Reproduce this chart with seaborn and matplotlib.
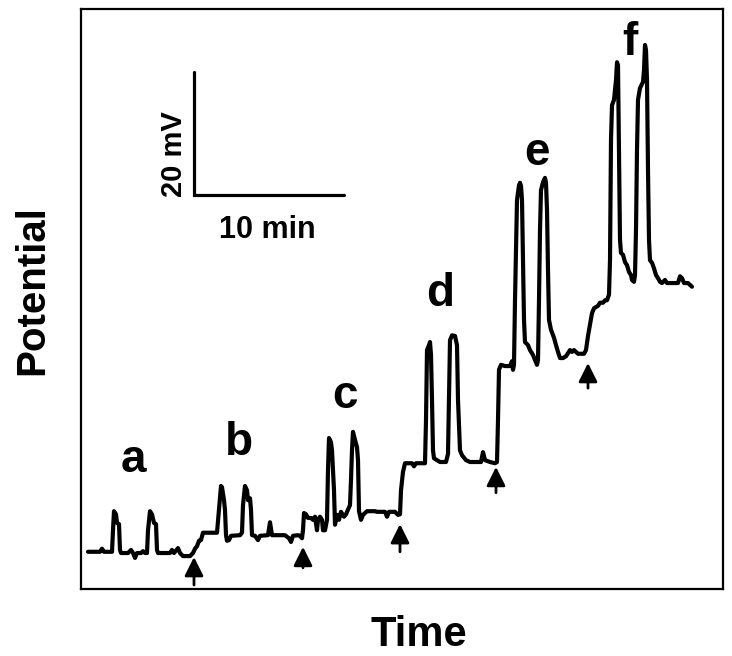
import matplotlib
matplotlib.use("Agg")
import matplotlib.pyplot as plt
import seaborn as sns
import pandas as pd

# ---- data (time in s, potential in mV relative to initial baseline) ----
time_s = [28, 76, 84, 92, 124, 128, 132, 140, 144, 152, 156, 160, 188, 200, 208, 216, 224, 240, 248, 256,
          264, 268, 276, 284, 292, 300, 304, 308, 356, 364, 372, 388, 396, 408, 420, 436, 448, 456, 464, 472,
          480, 488, 544, 552, 560, 564, 572, 576, 580, 584, 592, 600, 636, 644, 648, 656, 664, 668, 676, 680,
          684, 696, 708, 716, 748, 756, 764, 816, 832, 840, 848, 868, 876, 884, 888, 892, 900, 908, 920, 928,
          936, 944, 948, 956, 964, 968, 976, 984, 988, 992, 1000, 1004, 1012, 1016, 1024, 1032, 1040, 1052, 1060, 1076,
          1080, 1084, 1088, 1096, 1104, 1108, 1112, 1120, 1128, 1144, 1176, 1184, 1216, 1224, 1232, 1256, 1268, 1276, 1280, 1288,
          1296, 1324, 1332, 1340, 1376, 1380, 1384, 1392, 1396, 1400, 1404, 1408, 1412, 1424, 1436, 1452, 1460, 1468, 1472, 1476,
          1484, 1496, 1504, 1508, 1516, 1524, 1540, 1556, 1588, 1600, 1608, 1616, 1636, 1656, 1664, 1668, 1672, 1680, 1696, 1704,
          1716, 1724, 1728, 1732, 1736, 1740, 1744, 1752, 1756, 1760, 1764, 1768, 1772, 1776, 1788, 1796, 1808, 1816, 1824, 1828,
          1832, 1836, 1840, 1848, 1856, 1860, 1864, 1868, 1872, 1880, 1892, 1900, 1908, 1916, 1928, 1940, 1948, 1956, 1964, 1972,
          1980, 1988, 2012, 2020, 2028, 2036, 2044, 2052, 2068, 2076, 2088, 2096, 2104, 2112, 2116, 2120, 2124, 2132, 2140, 2144,
          2148, 2152, 2156, 2160, 2168, 2176, 2184, 2192, 2200, 2204, 2212, 2216, 2220, 2224, 2228, 2236, 2248, 2252, 2256, 2260,
          2264, 2268, 2272, 2276, 2284, 2292, 2300, 2308, 2316, 2324, 2336, 2344, 2356, 2388, 2396, 2404, 2412, 2428, 2436, 2444]

potential_mv = [0.2, 0.2, 0.7, 0.2, 0.2, 3.7, 6.8, 6.3, 4.9, 4.7, 0.5, 0.0, 0.0, 0.5, 0.0, -0.8, 0.0, 0.0, 0.3, 0.0,
                0.0, 3.7, 6.8, 6.3, 4.9, 4.7, 0.5, 0.0, 0.0, 0.5, 0.0, 0.8, 0.0, -0.5, -0.5, -0.5, 0.0, 0.7, 1.1, 2.0,
                2.1, 3.3, 3.3, 7.0, 10.9, 10.7, 8.6, 7.0, 2.9, 2.0, 2.1, 2.8, 2.9, 3.3, 7.8, 10.9, 10.2, 8.6, 8.9, 7.0,
                2.9, 2.8, 2.1, 2.8, 2.9, 5.0, 2.9, 2.9, 2.4, 1.8, 2.8, 2.9, 2.8, 2.4, 3.7, 6.5, 6.3, 5.7, 5.7, 5.4,
                5.9, 3.7, 5.4, 5.9, 5.4, 3.7, 3.7, 5.4, 13.5, 18.7, 18.0, 16.7, 10.2, 4.6, 6.2, 5.4, 6.7, 5.9, 6.3, 7.8,
                11.9, 16.7, 19.7, 18.4, 17.2, 15.1, 6.8, 5.4, 6.2, 6.8, 6.8, 6.7, 6.7, 5.9, 6.7, 6.7, 6.2, 6.3, 10.2, 13.2,
                14.6, 14.6, 14.1, 14.6, 14.6, 21.6, 33.0, 33.8, 34.3, 32.2, 24.9, 16.7, 15.4, 15.1, 14.8, 14.8, 14.8, 16.1, 24.9, 34.6,
                35.4, 35.3, 33.8, 24.9, 16.7, 15.9, 15.1, 14.8, 14.8, 14.8, 16.4, 15.1, 14.8, 14.6, 14.8, 21.6, 29.8, 30.6, 30.4, 30.4,
                30.4, 31.2, 29.8, 30.6, 41.1, 49.3, 57.4, 59.8, 60.2, 59.7, 57.4, 47.6, 37.9, 34.3, 33.8, 33.0, 32.2, 31.4, 30.6, 31.4,
                41.1, 52.5, 59.0, 60.3, 61.0, 60.2, 55.8, 46.0, 37.9, 36.3, 35.0, 33.8, 32.7, 31.7, 31.7, 32.0, 32.5, 33.0, 32.7, 33.0,
                32.7, 32.4, 32.4, 33.0, 35.3, 37.1, 39.0, 39.8, 40.2, 40.7, 40.7, 41.1, 41.1, 42.0, 47.6, 67.2, 72.8, 73.7, 76.9, 79.8,
                79.3, 65.5, 50.9, 48.8, 48.5, 47.3, 46.8, 45.7, 45.2, 44.4, 44.1, 45.2, 52.5, 65.5, 73.7, 75.6, 76.6, 78.5, 82.6, 81.8,
                76.9, 62.3, 50.9, 47.6, 47.2, 46.3, 45.2, 44.7, 44.1, 43.9, 44.4, 43.9, 43.9, 43.9, 45.0, 44.7, 43.9, 43.9, 43.6, 43.3]

# injection arrows: time, tip potential, tail potential
arrow_time = [452, 888, 1276, 1660, 2028]
arrow_tip = [-0.65, 1.0, 4.7, 14.0, 30.9]
arrow_tail = [-5.2, -2.4, 0.2, 9.8, 26.8]

# peak group labels
group_labels = ["a", "b", "c", "d", "e", "f"]
label_time = [208, 632, 1056, 1436, 1824, 2196]
label_pot = [13.2, 15.9, 23.6, 40.2, 63.1, 81.0]

# scale bar
bar_time0, bar_pot0 = 452, 58.2
bar_dt, bar_dv = 600, 20

df = pd.DataFrame({"Time": time_s, "Potential": potential_mv})

sns.set_theme(style="white")
plt.rcParams["font.family"] = ["Liberation Sans", "DejaVu Sans"]
plt.rcParams["text.color"] = "black"
plt.rcParams["axes.labelcolor"] = "black"

fig = plt.figure(figsize=(7.32, 6.56), dpi=100)
ax = fig.add_axes([81 / 732, 1 - 589 / 656, 642 / 732, 580 / 656])

sns.lineplot(data=df, x="Time", y="Potential", sort=False, estimator=None,
             color="black", linewidth=3.0, ax=ax)
for ln in ax.get_lines():
    ln.set_solid_joinstyle("round")
    ln.set_solid_capstyle("round")

ax.set_xlim(0, 2568)
ax.set_ylim(-5.85, 88.46)
ax.set_xticks([])
ax.set_yticks([])
for sp in ax.spines.values():
    sp.set_color("black")
    sp.set_linewidth(1.6)

# arrows
for t, tip, tail in zip(arrow_time, arrow_tip, arrow_tail):
    ax.annotate("", xy=(t, tip), xytext=(t, tail),
                arrowprops=dict(arrowstyle="-|>,head_length=0.6,head_width=0.3",
                                mutation_scale=19, color="black", lw=2.0,
                                shrinkA=0, shrinkB=0))

# group labels
for lab, t, v in zip(group_labels, label_time, label_pot):
    ax.text(t, v, lab, ha="center", va="baseline", fontsize=33,
            fontweight="bold", color="black")

# scale bar
ax.plot([bar_time0, bar_time0, bar_time0 + bar_dt],
        [bar_pot0 + bar_dv, bar_pot0, bar_pot0],
        color="black", lw=2.3, solid_joinstyle="miter")
ax.text(404, 64.9, "20 mV", rotation=90, rotation_mode="anchor",
        ha="center", va="baseline", fontsize=21, fontweight="bold", color="black")
ax.text(746, 51.2, "10 min", ha="center", va="baseline",
        fontsize=22, fontweight="bold", color="black")

ax.set_xlabel("Time", fontsize=30, fontweight="bold", color="black")
ax.set_ylabel("Potential", fontsize=29, fontweight="bold", color="black")
ax.xaxis.set_label_coords(0.5265, -0.0985)
ax.xaxis.label.set_verticalalignment("baseline")
ax.yaxis.set_label_coords(-0.0592, 0.5155)
ax.yaxis.label.set_rotation_mode("anchor")
ax.yaxis.label.set_verticalalignment("baseline")
ax.yaxis.label.set_horizontalalignment("center")

fig.savefig("out.png", dpi=100, facecolor="white")
